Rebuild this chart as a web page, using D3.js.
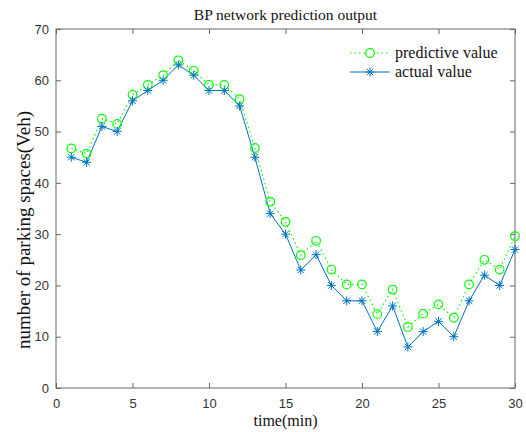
<!DOCTYPE html>
<html>
<head>
<meta charset="utf-8">
<script src="https://cdn.jsdelivr.net/npm/d3@7"></script>
<style>
  body { margin: 0; background: #fff; }
  svg { display: block; }
</style>
</head>
<body>
<div id="chart"></div>
<script>
// time steps (min)
var timeSteps = [1,2,3,4,5,6,7,8,9,10,11,12,13,14,15,16,17,18,19,20,21,22,23,24,25,26,27,28,29,30];
// BP network output
var predictiveValue = [46.7,45.7,52.5,51.5,57.2,59.1,61.0,63.9,61.9,59.1,59.1,56.3,46.8,36.3,32.4,25.9,28.7,23.1,20.2,20.2,14.4,19.2,11.9,14.5,16.3,13.7,20.2,25.0,23.1,29.6];
// observed parking spaces
var actualValue = [45,44,51,50,56,58,60,63,61,58,58,55,45,34,30,23,26,20,17,17,11,16,8,11,13,10,17,22,20,27];
var xTicks = [0,5,10,15,20,25,30];
var yTicks = [0,10,20,30,40,50,60,70];
var legendLabels = ["predictive value", "actual value"];

var W = 526, H = 432;
var margin = {top: 29, right: 11, bottom: 44, left: 56},
    width = W - margin.left - margin.right,
    height = H - margin.top - margin.bottom;

var axisColor = "#666",
    textColor = "#333",
    green = "#00ff00",
    blue = "#0072bd";

var svg = d3.select("#chart").append("svg")
    .attr("width", W)
    .attr("height", H);

var g = svg.append("g")
    .attr("transform", "translate(" + margin.left + "," + margin.top + ")");

var x = d3.scaleLinear().domain([0, 30]).range([0, width]);
var y = d3.scaleLinear().domain([0, 70]).range([height, 0]);

// box + inward ticks on all four sides
function styleAxis(sel) {
  sel.select(".domain").remove();
  sel.selectAll(".tick line").attr("stroke", axisColor);
  sel.selectAll(".tick text")
    .attr("fill", textColor)
    .attr("font-family", "'Liberation Sans', Arial, sans-serif")
    .attr("font-size", 13);
}

g.append("g")
    .attr("transform", "translate(0," + height + ")")
    .call(d3.axisBottom(x).tickValues(xTicks).tickSizeInner(-5).tickSizeOuter(0).tickPadding(11))
    .call(styleAxis);

g.append("g")
    .call(d3.axisTop(x).tickValues(xTicks).tickSizeInner(-5).tickSizeOuter(0).tickFormat(""))
    .call(styleAxis);

g.append("g")
    .call(d3.axisLeft(y).tickValues(yTicks).tickSizeInner(-5).tickSizeOuter(0).tickPadding(7))
    .call(styleAxis);

g.append("g")
    .attr("transform", "translate(" + width + ",0)")
    .call(d3.axisRight(y).tickValues(yTicks).tickSizeInner(-5).tickSizeOuter(0).tickFormat(""))
    .call(styleAxis);

g.append("rect")
    .attr("x", 0).attr("y", 0)
    .attr("width", width).attr("height", height)
    .attr("fill", "none")
    .attr("stroke", axisColor)
    .attr("stroke-width", 1);

// lines
var lineFn = d3.line()
    .x(function(d) { return x(d[0]); })
    .y(function(d) { return y(d[1]); });

var predPts = timeSteps.map(function(t, i) { return [t, predictiveValue[i]]; });
var actPts = timeSteps.map(function(t, i) { return [t, actualValue[i]]; });

g.append("path")
    .datum(predPts)
    .attr("d", lineFn)
    .attr("fill", "none")
    .attr("stroke", green)
    .attr("stroke-width", 1.2)
    .attr("stroke-dasharray", "1.5,3");

g.append("path")
    .datum(actPts)
    .attr("d", lineFn)
    .attr("fill", "none")
    .attr("stroke", blue)
    .attr("stroke-width", 1);

// star marker like matlab '*'
var starR = 4.5;
function starPath(r) {
  var d = r * Math.SQRT1_2;
  return "M" + (-r) + ",0L" + r + ",0M0," + (-r) + "L0," + r +
         "M" + (-d) + "," + (-d) + "L" + d + "," + d +
         "M" + (-d) + "," + d + "L" + d + "," + (-d);
}

g.selectAll(".pred").data(predPts).enter().append("circle")
    .attr("class", "pred")
    .attr("cx", function(d) { return x(d[0]); })
    .attr("cy", function(d) { return y(d[1]); })
    .attr("r", 4.3)
    .attr("fill", "none")
    .attr("stroke", green)
    .attr("stroke-width", 1.2);

g.selectAll(".act").data(actPts).enter().append("path")
    .attr("class", "act")
    .attr("transform", function(d) { return "translate(" + x(d[0]) + "," + y(d[1]) + ")"; })
    .attr("d", starPath(starR))
    .attr("fill", "none")
    .attr("stroke", blue)
    .attr("stroke-width", 1);

// legend
var serif = "'Liberation Serif', 'Times New Roman', serif";
var legend = svg.append("g").attr("transform", "translate(350,53)");

legend.append("line")
    .attr("x1", 0).attr("x2", 40).attr("y1", 0).attr("y2", 0)
    .attr("stroke", green).attr("stroke-width", 1.2).attr("stroke-dasharray", "1.5,3");
legend.append("circle")
    .attr("cx", 20).attr("cy", 0).attr("r", 4.3)
    .attr("fill", "#fff").attr("stroke", green).attr("stroke-width", 1.2);
legend.append("line")
    .attr("x1", 0).attr("x2", 40).attr("y1", 19).attr("y2", 19)
    .attr("stroke", blue).attr("stroke-width", 1);
legend.append("path")
    .attr("transform", "translate(20,19)")
    .attr("d", starPath(starR))
    .attr("fill", "none").attr("stroke", blue).attr("stroke-width", 1);

legend.selectAll("text").data(legendLabels).enter().append("text")
    .attr("x", 45)
    .attr("y", function(d, i) { return i * 19; })
    .attr("dy", "0.32em")
    .attr("font-family", serif)
    .attr("font-size", 16)
    .attr("fill", "#111")
    .text(function(d) { return d; });

// title and axis labels
svg.append("text")
    .attr("x", margin.left + width / 2)
    .attr("y", 20)
    .attr("text-anchor", "middle")
    .attr("font-family", serif)
    .attr("font-size", 15.5)
    .attr("fill", "#111")
    .text("BP network prediction output");

svg.append("text")
    .attr("x", margin.left + width / 2)
    .attr("y", 426)
    .attr("text-anchor", "middle")
    .attr("font-family", serif)
    .attr("font-size", 16)
    .attr("fill", "#111")
    .text("time(min)");

svg.append("text")
    .attr("transform", "translate(30,230) rotate(-90)")
    .attr("text-anchor", "middle")
    .attr("font-family", serif)
    .attr("font-size", 19)
    .attr("fill", "#111")
    .text("number of parking spaces(Veh)");
</script>
</body>
</html>
